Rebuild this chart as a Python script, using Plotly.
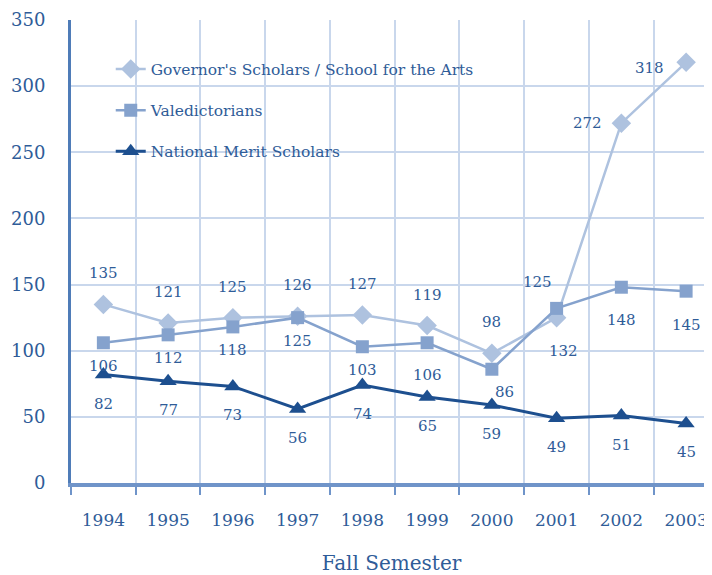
import plotly.graph_objects as go

# ── Data ─────────────────────────────────────────────
years = ["1994", "1995", "1996", "1997", "1998", "1999", "2000", "2001", "2002", "2003"]
governors = [135, 121, 125, 126, 127, 119, 98, 125, 272, 318]
valedictorians = [106, 112, 118, 125, 103, 106, 86, 132, 148, 145]
merit = [82, 77, 73, 56, 74, 65, 59, 49, 51, 45]

TEXT = "#2f5c98"
GRID = "#c9d7ec"
FONT = "DejaVu Serif, Liberation Serif, serif"

series = [
    ("Governor's Scholars / School for the Arts", governors, "#aec2df", "diamond", 15, 2.5),
    ("Valedictorians", valedictorians, "#85a2cd", "square", 13, 2.5),
    ("National Merit Scholars", merit, "#1d4f8f", "triangle-up", 15, 3),
]

# label offsets in pixels (dx, dy; dy positive = downward)
default_shift = {0: (0, -31), 1: (0, 23), 2: (0, 29)}
shift_override = {
    (0, 7): (-19, -36), (0, 8): (-34, 0), (0, 9): (-37, 6),
    (1, 5): (0, 32), (1, 6): (13, 23), (1, 7): (7, 43), (1, 8): (0, 33), (1, 9): (0, 34),
}

fig = go.Figure()
annotations = []
for s, (name, vals, color, symbol, msize, lw) in enumerate(series):
    fig.add_trace(go.Scatter(
        x=years, y=vals, name=name, mode="lines+markers",
        line=dict(color=color, width=lw),
        marker=dict(symbol=symbol, size=msize, color=color),
        legendgroup=f"g{s}",
    ))
    for i, v in enumerate(vals):
        dx, dy = shift_override.get((s, i), default_shift[s])
        annotations.append(dict(
            x=i, y=v, xref="x", yref="y", text=str(v), showarrow=False,
            xshift=dx, yshift=-dy,
            font=dict(family=FONT, size=15, color=TEXT),
        ))

fig.update_layout(
    width=704, height=567,
    margin=dict(l=63, r=0, t=12, b=92),
    paper_bgcolor="white", plot_bgcolor="white",
    font=dict(family=FONT, color=TEXT),
    showlegend=True,
    legend=dict(
        x=0.062, y=0.93, xanchor="left", yanchor="top",
        bgcolor="rgba(0,0,0,0)", tracegroupgap=18,
        traceorder="grouped",
        font=dict(family=FONT, size=15.5, color=TEXT),
    ),
    annotations=annotations,
    xaxis=dict(
        type="category", range=[-0.5, 9.4],
        tickson="boundaries", ticks="outside", ticklen=8, tickcolor="#6f94c9", tickwidth=2,
        showgrid=True, gridcolor=GRID, gridwidth=1.5,
        showline=True, linecolor="#6f94c9", linewidth=4,
        ticklabelstandoff=19,
        tickfont=dict(family=FONT, size=17, color=TEXT),
        title=dict(text="Fall Semester", font=dict(family=FONT, size=20, color=TEXT), standoff=31),
    ),
    yaxis=dict(
        range=[0, 350], dtick=50,
        showgrid=True, gridcolor=GRID, gridwidth=1.5,
        zeroline=False,
        showline=True, linecolor="#4f7cb8", linewidth=3,
        ticks="", ticklabelstandoff=19,
        tickfont=dict(family=FONT, size=18, color=TEXT),
    ),
)

fig.write_html("out.html")
